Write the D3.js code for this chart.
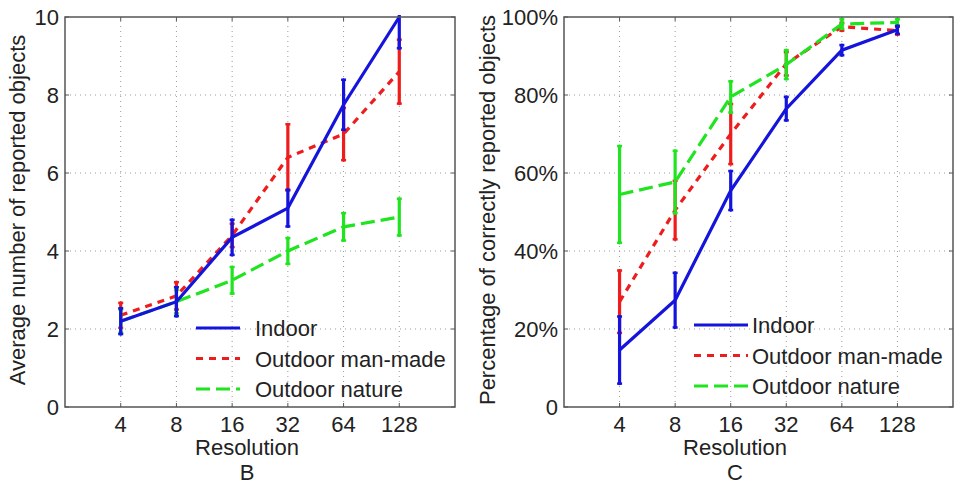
<!DOCTYPE html>
<head>
    <meta charset="utf-8">
    <script src="https://d3js.org/d3.v7.min.js"></script>
</head>
<body style="margin: 0; background: white">
    <div id="my_dataviz"></div>

    <script>
        // data
        var resolutions = [4, 8, 16, 32, 64, 128]
        var seriesNames = ["Indoor", "Outdoor man-made", "Outdoor nature"]

        // panel B: average number of reported objects
        var countIndoor = [2.2, 2.7, 4.35, 5.1, 7.75, 10.0]
        var countIndoorErr = [0.33, 0.37, 0.45, 0.47, 0.64, 0.8]
        var countManMade = [2.35, 2.85, 4.4, 6.4, 7.0, 8.6]
        var countManMadeErr = [0.32, 0.35, 0.3, 0.85, 0.67, 0.82]
        var countNature = [2.2, 2.7, 3.25, 4.0, 4.62, 4.87]
        var countNatureErr = [0.3, 0.3, 0.34, 0.33, 0.35, 0.47]
        var countTicks = [0, 2, 4, 6, 8, 10]

        // panel C: percentage of correctly reported objects
        var pctIndoor = [14.6, 27.4, 55.5, 76.5, 91.5, 96.7]
        var pctIndoorErr = [8.6, 7, 5, 3, 1.3, 1]
        var pctManMade = [27, 50.5, 70, 88, 97.5, 96.5]
        var pctManMadeErr = [8, 7.5, 7.7, 3, 1, 1]
        var pctNature = [54.5, 57.7, 79.5, 87.8, 98.2, 98.6]
        var pctNatureErr = [12.4, 8, 4, 3.7, 1.2, 0.8]
        var pctTicks = [0, 20, 40, 60, 80, 100]

        var colors = ["#1414dc", "#ee1c1c", "#1fe41f"]
        var dashes = [null, "7,6", "14,6"]
        var font = "'Liberation Sans', Arial, sans-serif"
        var fs = 22

        var svg = d3.select("#my_dataviz")
            .append("svg")
            .attr("width", 960)
            .attr("height", 487)
            .style("font-family", font)

        function drawPanel(p) {
            var x = d3.scaleLog().base(2).domain([2, 256]).range([p.left, p.right])
            var y = d3.scaleLinear().domain([0, p.ymax]).range([407, 17])

            var g = svg.append("g")

            // dotted grid
            g.selectAll(".vgrid").data(resolutions).enter().append("line")
                .attr("x1", d => x(d)).attr("x2", d => x(d))
                .attr("y1", y(0)).attr("y2", y(p.ymax))
                .attr("stroke", "#9a9a9a").attr("stroke-width", 1)
                .attr("stroke-dasharray", "1,4")
            g.selectAll(".hgrid").data(p.ticks.slice(1, -1)).enter().append("line")
                .attr("x1", p.left).attr("x2", p.right)
                .attr("y1", d => y(d)).attr("y2", d => y(d))
                .attr("stroke", "#9a9a9a").attr("stroke-width", 1)
                .attr("stroke-dasharray", "1,4")

            // inward ticks on all sides
            resolutions.forEach(function (d) {
                g.append("line").attr("x1", x(d)).attr("x2", x(d)).attr("y1", y(0)).attr("y2", y(0) - 4).attr("stroke", "#555")
                g.append("line").attr("x1", x(d)).attr("x2", x(d)).attr("y1", y(p.ymax)).attr("y2", y(p.ymax) + 4).attr("stroke", "#555")
            })
            p.ticks.forEach(function (d) {
                g.append("line").attr("x1", p.left).attr("x2", p.left + 4).attr("y1", y(d)).attr("y2", y(d)).attr("stroke", "#555")
                g.append("line").attr("x1", p.right).attr("x2", p.right - 4).attr("y1", y(d)).attr("y2", y(d)).attr("stroke", "#555")
            })

            // tick labels
            g.selectAll(".xlab").data(resolutions).enter().append("text")
                .attr("x", d => x(d)).attr("y", 432)
                .attr("text-anchor", "middle")
                .style("font-size", fs + "px").style("fill", "#222")
                .text(d => d)
            g.selectAll(".ylab").data(p.ticks).enter().append("text")
                .attr("x", p.left - 6).attr("y", d => y(d) + 8)
                .attr("text-anchor", "end")
                .style("font-size", fs + "px").style("fill", "#222")
                .text(p.fmt)

            // axis titles
            g.append("text").attr("x", p.labelX).attr("y", 455)
                .attr("text-anchor", "middle").style("font-size", fs + "px").style("fill", "#222")
                .text("Resolution")
            g.append("text").attr("x", p.labelX).attr("y", 480)
                .attr("text-anchor", "middle").style("font-size", fs + "px").style("fill", "#222")
                .text(p.letter)
            g.append("text")
                .attr("transform", "translate(" + p.ylabelX + "," + 210 + ") rotate(-90)")
                .attr("text-anchor", "middle").style("font-size", fs + "px").style("fill", "#222")
                .text(p.ylabel)

            // clip to the axes box
            var clipId = "clip" + p.letter
            svg.append("clipPath").attr("id", clipId).append("rect")
                .attr("x", p.left).attr("y", 15).attr("width", p.right - p.left).attr("height", 394)
            var plot = g.append("g").attr("clip-path", "url(#" + clipId + ")")

            var line = d3.line().x(d => x(d.r)).y(d => y(d.v))

            // draw order: man-made, nature, indoor
            ;[1, 2, 0].forEach(function (k) {
                var rows = resolutions.map((r, i) => ({ r: r, v: p.values[k][i], e: p.errors[k][i] }))
                plot.selectAll(".err" + k).data(rows).enter().append("line")
                    .attr("x1", d => x(d.r)).attr("x2", d => x(d.r))
                    .attr("y1", d => y(d.v - d.e)).attr("y2", d => y(d.v + d.e))
                    .attr("stroke", colors[k]).attr("stroke-width", 3.2)
                    .attr("stroke-linecap", "round")
                plot.selectAll(".cap" + k).data(rows).enter().append("g")
                    .each(function (d) {
                        [d.v - d.e, d.v + d.e].forEach(function (v) {
                            d3.select(this).append("line")
                                .attr("x1", x(d.r) - 2.5).attr("x2", x(d.r) + 2.5)
                                .attr("y1", y(v)).attr("y2", y(v))
                                .attr("stroke", colors[k]).attr("stroke-width", 2.5)
                        }, this)
                    })
                plot.append("path").datum(rows)
                    .attr("d", line)
                    .attr("fill", "none")
                    .attr("stroke", colors[k]).attr("stroke-width", 3.2)
                    .attr("stroke-dasharray", dashes[k])
            })

            // box
            g.append("rect").attr("x", p.left).attr("y", y(p.ymax))
                .attr("width", p.right - p.left).attr("height", y(0) - y(p.ymax))
                .attr("fill", "none").attr("stroke", "#555").attr("stroke-width", 1.5)

            // legend
            seriesNames.forEach(function (name, k) {
                var ly = p.legendY + k * 30.5
                g.append("line").attr("x1", p.legX0).attr("x2", p.legX1)
                    .attr("y1", ly).attr("y2", ly)
                    .attr("stroke", colors[k]).attr("stroke-width", 3.2)
                    .attr("stroke-dasharray", dashes[k])
                g.append("text").attr("x", p.legText).attr("y", ly + 8)
                    .style("font-size", fs + "px").style("fill", "#222")
                    .text(name)
            })
        }

        drawPanel({
            left: 65, right: 455, ymax: 10, ticks: countTicks,
            fmt: d => d,
            values: [countIndoor, countManMade, countNature],
            errors: [countIndoorErr, countManMadeErr, countNatureErr],
            labelX: 247, letter: "B", ylabelX: 25,
            ylabel: "Average number of reported objects",
            legX0: 196, legX1: 240, legText: 255, legendY: 328
        })

        drawPanel({
            left: 564, right: 953, ymax: 100, ticks: pctTicks,
            fmt: d => d === 0 ? "0" : d + "%",
            values: [pctIndoor, pctManMade, pctNature],
            errors: [pctIndoorErr, pctManMadeErr, pctNatureErr],
            labelX: 735, letter: "C", ylabelX: 495,
            ylabel: "Percentage of correctly reported objects",
            legX0: 694, legX1: 748, legText: 752, legendY: 325
        })
    </script>
</body>
</html>
